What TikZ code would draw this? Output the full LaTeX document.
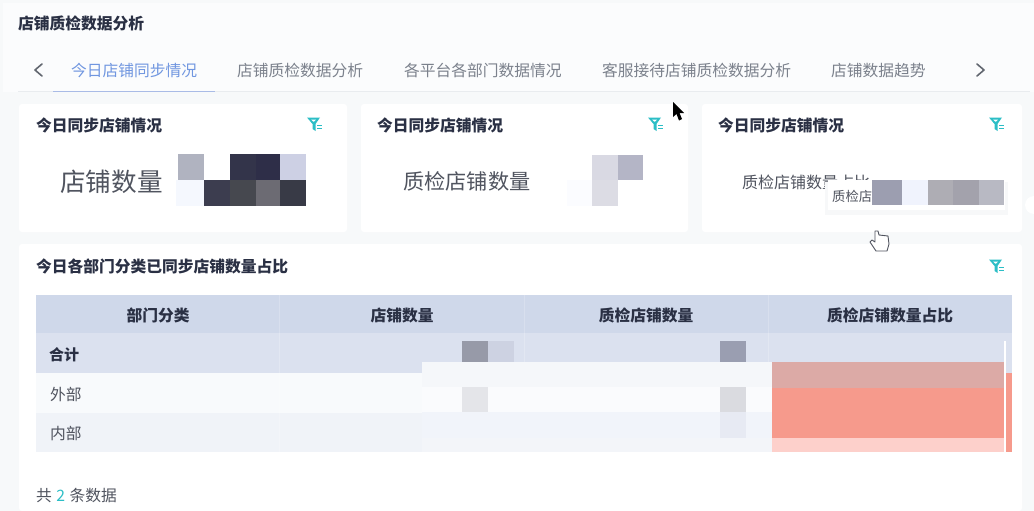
\documentclass[tikz,border=0pt]{standalone}
\usepackage{fontspec}
\setmainfont{Noto Sans CJK SC}
\definecolor{pagebg}{HTML}{F7F9FA}
\definecolor{topbg}{HTML}{FBFCFD}
\definecolor{inktitle}{HTML}{2A3044}
\definecolor{inktab}{HTML}{7B818C}
\definecolor{inkbig}{HTML}{50545F}
\definecolor{tabblue}{HTML}{7096E0}
\definecolor{tabline}{HTML}{A9BBE6}
\definecolor{rulegray}{HTML}{E9ECEF}
\definecolor{teal}{HTML}{2CBEC6}
\definecolor{headbg}{HTML}{CFD8EA}
\definecolor{totalbg}{HTML}{DBE1EF}
\definecolor{rowa}{HTML}{F8FAFC}
\definecolor{rowb}{HTML}{F0F3F8}
\definecolor{redmid}{HTML}{F69A8C}
\definecolor{redtop}{HTML}{DCAAA6}
\definecolor{redlow}{HTML}{FDD0CB}
\newcommand{\filtermark}[2]{
	\fill[teal](#1-7,#2-6.5)--(#1+6,#2-6.5)--(#1+1.5,#2)--(#1+1.5,#2+7)--(#1-1.5,#2+5)--(#1-1.5,#2)--cycle;
	\fill[white](#1-3,#2-4.5)--(#1+2,#2-4.5)--(#1+0.2,#2-2.5)--(#1-1,#2-2.5)--cycle;
	\draw[teal,line width=1.2pt](#1+3,#2+1.5)--(#1+8,#2+1.5);
	\draw[teal,line width=1.2pt](#1+3,#2+4.5)--(#1+8,#2+4.5);
}
\begin{document}
\begin{tikzpicture}
	[x=1pt,y=-1pt,
	label/.style={inner sep=0,anchor=west,yshift=-0.7pt,font=\fontsize{15.75}{18}\selectfont},
	head/.style={label,anchor=center,text=inktitle,font=\fontsize{15.75}{18}\selectfont\bfseries},
	heading/.style={label,text=inktitle,font=\fontsize{15.75}{18}\selectfont\bfseries},
	tab/.style={label,text=inktab},
	chevron/.style={draw=#1,line width=1.6pt,line join=round,line cap=round},
	card/.style={fill=white,rounded corners=3pt}]
	\useasboundingbox(0,0)rectangle(1034,511);
	\fill[pagebg](0,0)rectangle(1034,511);
	\fill[topbg](3,3)rectangle(1034,92);
	% tabs
	\node[heading,name=pagetitle]at(18,23){店铺质检数据分析};
	\node[tab,name=tab1,text=tabblue]at(71,70){今日店铺同步情况};
	\node[tab,name=tab2]at(237,70){店铺质检数据分析};
	\node[tab,name=tab3]at(404,70){各平台各部门数据情况};
	\node[tab,name=tab4]at(602,70){客服接待店铺质检数据分析};
	\node[tab,name=tab5]at(831,70){店铺数据趋势};
	\draw[rulegray,line width=1pt](18,91.5)--(1030,91.5);
	\draw[tabline,line width=1.6pt](53,91.5)--(215,91.5);
	\draw[chevron=inktab!80!black](42,64)--(35,70)--(42,76);
	\draw[chevron=inktab!80!black](977,64)--(984,70)--(977,76);
	% cards
	\fill[card](19,104)rectangle(347,232);
	\fill[card](361,104)rectangle(688,232);
	\fill[card](702,104)rectangle(1022,232);
	\fill[card](19,244)rectangle(1022,511);
	\fill[white](1034,205)circle(9);
	\node[heading,name=title1]at(36,125){今日同步店铺情况};
	\node[heading,name=title2]at(377,125){今日同步店铺情况};
	\node[heading,name=title3]at(718,125){今日同步店铺情况};
	\node[heading,name=title4]at(36,266){今日各部门分类已同步店铺数量占比};
	\filtermark{314}{124}
	\filtermark{655}{124}
	\filtermark{996}{124}
	\filtermark{996}{266}
	\node[label,name=big1,text=inkbig,font=\fontsize{25.6}{28}\selectfont]at(60,181){店铺数量};
	\node[label,name=big2,text=inkbig,font=\fontsize{21.2}{24}\selectfont]at(403,181){质检店铺数量};
	\node[label,name=big3,text=inkbig,font=\fontsize{16}{18}\selectfont]at(742,182){质检店铺数量占比};
	% blurred figures
	\foreach \xa/\ya/\xb/\yb/\c in {178/154/204/180/B0B3C0,230/154/256/180/33344A,256/154/280/180/2E2E48,280/154/306/180/CDD0E4,
		176/180/204/206/F5F8FE,204/180/230/206/3C3D4F,230/180/256/206/46484F,256/180/280/206/6C6B73,280/180/306/206/383A46,
		567/180/592/206/FBFCFF,592/155/618/180/D9D9E3,618/155/643/180/B4B5C6,592/180/618/206/DCDCE4}{
		\definecolor{cell}{HTML}{\c}
		\fill[cell](\xa,\ya)rectangle(\xb,\yb);
	}
	% tooltip
	\fill[rulegray!35](825,182)rectangle(1008,215);
	\fill[white](828,180)rectangle(1005,210);
	\node[label,name=tip,text=inkbig,font=\fontsize{13.3}{15}\selectfont]at(832,196){质检店};
	\foreach \xa/\xb/\c in {872/902/9C9EB0,902/928/F0F3FD,928/953/AEADB4,953/979/A3A2AC,979/1004/B8B9C3}{
		\definecolor{cell}{HTML}{\c}
		\fill[cell](\xa,180)rectangle(\xb,205);
	}
	% table
	\fill[headbg](36,295)rectangle(1012,333);
	\fill[totalbg](36,333)rectangle(1012,373);
	\fill[rowa](36,373)rectangle(1012,413);
	\fill[rowb](36,413)rectangle(1012,452);
	\foreach \x in {279.5,524,768}{
		\draw[white,opacity=0.2,line width=0.8pt](\x,295)--(\x,452);
	}
	\node[head,name=col1]at(158,315){部门分类};
	\node[head,name=col2]at(402,315){店铺数量};
	\node[head,name=col3]at(646,315){质检店铺数量};
	\node[head,name=col4]at(890,315){质检店铺数量占比};
	\node[heading,name=row1,font=\fontsize{15}{18}\selectfont\bfseries]at(49,354){合计};
	\node[label,name=row2,text=inkbig]at(50,394){外部};
	\node[label,name=row3,text=inkbig]at(50,433){内部};
	\node[label,name=count,text=inkbig]at(36,495){共\hspace{4.5pt}\textcolor{teal}{2}\hspace{4.5pt}条数据};
	\foreach \xa/\ya/\xb/\yb/\c in {422/362/772/387/F5F7FA,422/387/772/412/FAFBFD,422/412/772/438/F1F4FA,422/438/772/452/F3F5F9,
		462/341/488/362/979AA8,488/341/514/362/CDD2E2,462/387/488/412/E4E5E9,
		720/341/746/362/9A9EB1,720/387/746/412/DADBE0,720/412/746/438/E7EAF3}{
		\definecolor{cell}{HTML}{\c}
		\fill[cell](\xa,\ya)rectangle(\xb,\yb);
	}
	\fill[redtop](772,362)rectangle(1004,387.5);
	\fill[redmid](772,387.5)rectangle(1004,438);
	\fill[redlow](772,438)rectangle(1004,452);
	\fill[redmid](1005,373)rectangle(1012,452);
	\fill[white](1004,341)rectangle(1005.5,452);
	% pointers
	\fill[black](673,102)--(673,117)--(676.5,114)--(679,120.5)--(682,119)--(679.5,113)--(684,113)--cycle;
	\draw[inkbig,fill=white,line width=0.9pt,line join=round](875,231)--(875,242)--(872,240)--(870,242)--(876,251)--(887,251)--(889,244)--(888,236)--(879,235)--(878,231)--cycle;
\end{tikzpicture}
\end{document}
